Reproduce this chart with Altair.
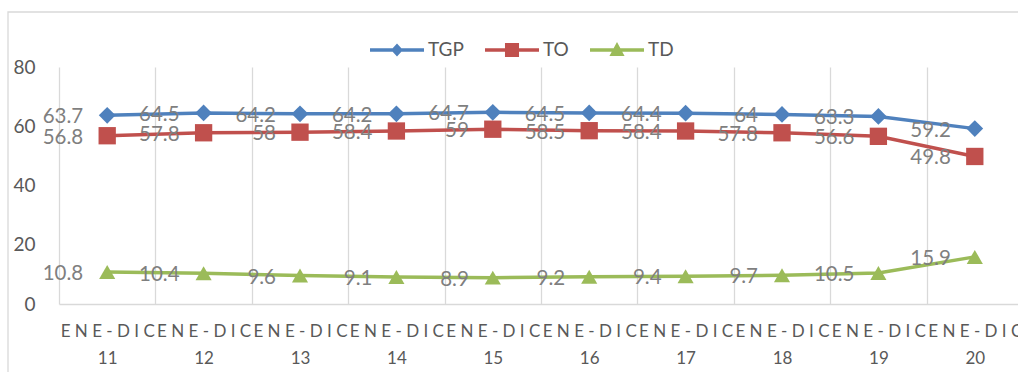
import altair as alt
import pandas as pd

# Series and categories
period = "ENE-DIC"
years = ["11", "12", "13", "14", "15", "16", "17", "18", "19", "20"]
series_names = ["TGP", "TO", "TD"]
tgp = [63.7, 64.5, 64.2, 64.2, 64.7, 64.5, 64.4, 64.0, 63.3, 59.2]
to = [56.8, 57.8, 58.0, 58.4, 59.0, 58.5, 58.4, 57.8, 56.6, 49.8]
td = [10.8, 10.4, 9.6, 9.1, 8.9, 9.2, 9.4, 9.7, 10.5, 15.9]
y_ticks = [0, 20, 40, 60, 80]

colors = ["#4F81BD", "#C0504D", "#9BBB59"]
marker_shapes = ["diamond", "square", "triangle-up"]
marker_sizes = [280, 300, 260]

FONT = "Lato"
GRID = "#d9d9d9"

rows = []
for name, vals in zip(series_names, [tgp, to, td]):
    for i, (yr, v) in enumerate(zip(years, vals)):
        rows.append({"series": name, "pos": i + 0.5, "value": v, "label": f"{v:g}"})
df = pd.DataFrame(rows)

# plot geometry
PLOT_W = 959
PLOT_H = 237
BAND = 96.4

spaced = " ".join(period)
label_expr = "[" + ",".join(f"['{spaced}','{y}']" for y in years) + "][datum.value]"

x_enc = alt.X(
    "pos:Q",
    scale=alt.Scale(domain=[0, PLOT_W / BAND], nice=False, zero=False),
    axis=alt.Axis(
        values=list(range(len(years))),
        grid=True, gridColor=GRID, gridWidth=1.3,
        ticks=False, domain=True, domainColor=GRID, domainWidth=1.3,
        labelOffset=BAND / 2, labelExpr=label_expr,
        labelFlush=False, labelOverlap=False, labelBound=False,
        labelFont=FONT, labelFontSize=17, labelColor="#595959",
        labelPadding=19, labelLineHeight=27, labelBaseline="top",
        title=None,
    ),
)
y_enc = alt.Y(
    "value:Q",
    scale=alt.Scale(domain=[0, 80], nice=False, zero=True),
    axis=alt.Axis(
        values=y_ticks, grid=False, ticks=False, domain=False,
        labelFont=FONT, labelFontSize=19, labelColor="#595959",
        labelPadding=24, title=None,
    ),
)

color_scale = alt.Scale(domain=series_names, range=colors)

# legend symbols: a short line with the series marker on it
bar = "M-1,-0.063L1,-0.063L1,0.063L-1,0.063Z"
legend_paths = [
    bar + "M0,-0.24L0.22,0L0,0.24L-0.22,0Z",
    bar + "M-0.26,-0.26L0.26,-0.26L0.26,0.26L-0.26,0.26Z",
    bar + "M0,-0.3L0.28,0.22L-0.28,0.22Z",
]

legend = alt.Legend(
    orient="none", legendX=311, legendY=-44, direction="horizontal",
    title=None, symbolSize=2916, symbolStrokeWidth=0, symbolOpacity=1,
    labelFont=FONT, labelFontSize=19, labelColor="#595959",
    labelOffset=4, columnPadding=21, padding=0,
)

base = alt.Chart(df)

series_lines = [
    base.transform_filter(alt.datum.series == name)
    .mark_line(strokeWidth=3.5, color=col)
    .encode(x=x_enc, y=y_enc)
    for name, col in zip(series_names, colors)
]

markers = [
    base.transform_filter(alt.datum.series == name)
    .mark_point(shape=shape, filled=True, size=size, opacity=1, color=col)
    .encode(x=x_enc, y=y_enc)
    for name, shape, size, col in zip(series_names, marker_shapes, marker_sizes, colors)
]

# zero-size points that only carry the legend
legend_layer = base.mark_point(filled=True, size=0).encode(
    x=x_enc, y=y_enc,
    color=alt.Color("series:N", scale=color_scale, legend=legend),
    shape=alt.Shape("series:N", scale=alt.Scale(domain=series_names, range=legend_paths), legend=legend),
)

labels = base.mark_text(
    align="right", baseline="middle", dx=-24, dy=2,
    font=FONT, fontSize=20.5, color="#7f7f7f",
).encode(x=x_enc, y=y_enc, text="label:N")

frame = alt.Chart(pd.DataFrame({"f": [0]})).mark_rect(
    fillOpacity=0, stroke=GRID, strokeWidth=1.3
).encode(
    x=alt.value(-51), x2=alt.value(1200), y=alt.value(-55), y2=alt.value(600)
)

chart = alt.layer(frame, *series_lines, *markers, legend_layer, labels).properties(
    width=PLOT_W, height=PLOT_H,
    autosize=alt.AutoSizeParams(type="none"),
    padding={"left": 59, "top": 67, "right": 0, "bottom": 68},
    background="white",
).configure_view(strokeWidth=0)

chart.save("out.html", embed_options={"renderer": "svg", "actions": False})
